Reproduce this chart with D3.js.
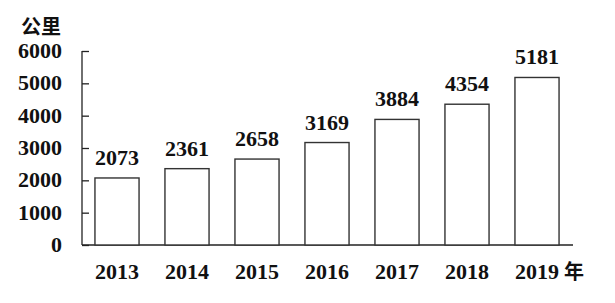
<!DOCTYPE html>
<html>
<head>
	<meta charset="utf-8">
	<title>公里</title>
	<script src="https://d3js.org/d3.v7.min.js" charset="utf-8"></script>
	<style>
		body { margin: 0; background: #fff; }
	</style>
</head>
<body>
<script type="text/javascript">
	// data
	var years = ["2013", "2014", "2015", "2016", "2017", "2018", "2019"];
	var values = [2073, 2361, 2658, 3169, 3884, 4354, 5181];
	var yTicks = [0, 1000, 2000, 3000, 4000, 5000, 6000];

	var svgWidth = 615,
	    svgHeight = 303;

	var serif = "'Liberation Serif', 'Times New Roman', serif";
	var cjk = "'Noto Sans CJK SC', sans-serif";

	var svg = d3.select("body")
		.append("svg")
		.attr("width", svgWidth)
		.attr("height", svgHeight)
		.style("font-weight", "bold");

	var x = d3.scaleBand()
		.domain(years)
		.range([82, 572])
		.paddingInner(0.37)
		.paddingOuter(0.185);

	var y = d3.scaleLinear()
		.domain([0, 6000])
		.range([245, 51]);

	// y axis: ticks point inward
	var yAxis = svg.append("g")
		.attr("transform", "translate(82,0)")
		.call(d3.axisRight(y).tickValues(yTicks).tickSize(7).tickFormat(""));
	yAxis.select(".domain").attr("d", "M0," + y(6000) + "V" + y(0)).attr("stroke", "#222").attr("stroke-width", 1.3);
	yAxis.selectAll(".tick line").attr("stroke", "#222").attr("stroke-width", 1.3);

	svg.selectAll(".ylab")
		.data(yTicks)
		.enter().append("text")
		.attr("class", "ylab")
		.attr("x", 62)
		.attr("y", function(d) { return y(d) + 7; })
		.attr("text-anchor", "end")
		.attr("font-family", serif)
		.attr("font-size", 22)
		.attr("font-weight", "bold")
		.attr("fill", "#111")
		.text(function(d) { return d; });

	// unit label
	svg.append("text")
		.attr("x", 21)
		.attr("y", 34)
		.attr("font-family", cjk)
		.attr("font-size", 20)
		.attr("font-weight", "bold")
		.attr("fill", "#111")
		.text("公里");

	// x axis line
	svg.append("line")
		.attr("x1", 82).attr("x2", 573)
		.attr("y1", y(0)).attr("y2", y(0))
		.attr("stroke", "#222").attr("stroke-width", 1.3);

	// bars
	svg.selectAll(".bar")
		.data(values)
		.enter().append("rect")
		.attr("class", "bar")
		.attr("x", function(d, i) { return x(years[i]); })
		.attr("y", function(d) { return y(d); })
		.attr("width", x.bandwidth())
		.attr("height", function(d) { return y(0) - y(d); })
		.attr("fill", "#fff")
		.attr("stroke", "#333")
		.attr("stroke-width", 1.4);

	// value labels
	svg.selectAll(".val")
		.data(values)
		.enter().append("text")
		.attr("class", "val")
		.attr("x", function(d, i) { return x(years[i]) + x.bandwidth() / 2; })
		.attr("y", function(d) { return y(d) - 13; })
		.attr("text-anchor", "middle")
		.attr("font-family", serif)
		.attr("font-size", 22)
		.attr("font-weight", "bold")
		.attr("fill", "#111")
		.text(function(d) { return d; });

	// year labels
	svg.selectAll(".xlab")
		.data(years)
		.enter().append("text")
		.attr("class", "xlab")
		.attr("x", function(d) { return x(d) + x.bandwidth() / 2; })
		.attr("y", 279)
		.attr("text-anchor", "middle")
		.attr("font-family", serif)
		.attr("font-size", 22)
		.attr("font-weight", "bold")
		.attr("fill", "#111")
		.text(function(d) { return d; });

	svg.append("text")
		.attr("x", x("2019") + x.bandwidth() + 5)
		.attr("y", 279)
		.attr("font-family", cjk)
		.attr("font-size", 20)
		.attr("font-weight", "bold")
		.attr("fill", "#111")
		.text("年");
</script>
</body>
</html>
